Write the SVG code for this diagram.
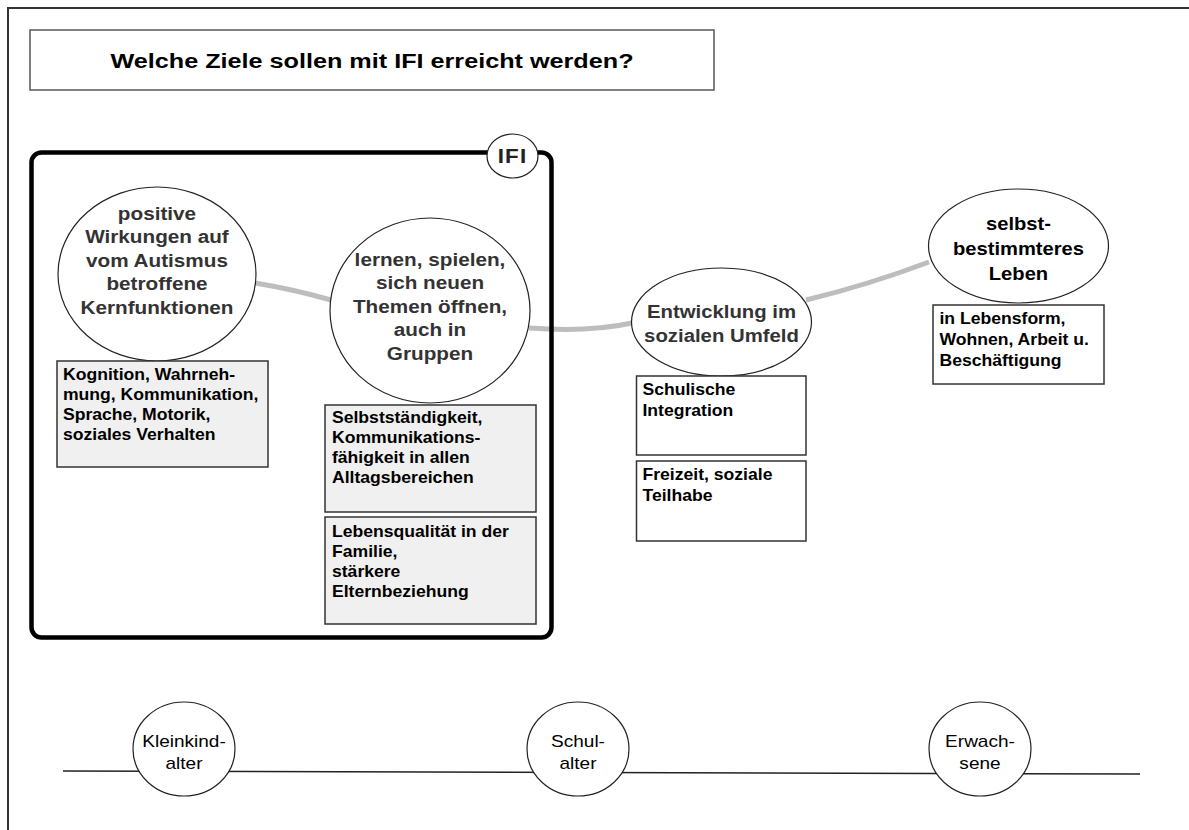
<svg xmlns="http://www.w3.org/2000/svg" width="1189" height="830" viewBox="0 0 1189 830">
<style>
.t{font-family:"Liberation Sans",Arial,sans-serif}
.b{font-weight:bold}
.node{fill:#fff;stroke:#222;stroke-width:1.2}
.ct{font-family:"Liberation Sans",Arial,sans-serif;font-weight:bold;font-size:18.5px;fill:#333;text-anchor:middle}
.bx{fill:#f0f0f0;stroke:#333;stroke-width:1.5}
.wb{fill:#fff;stroke:#333;stroke-width:1.5}
.bt{font-family:"Liberation Sans",Arial,sans-serif;font-weight:bold;font-size:16px;fill:#000}
.conn{fill:none;stroke:#bdbdbd;stroke-width:5}
.tl{font-family:"Liberation Sans",Arial,sans-serif;font-size:17px;fill:#000;text-anchor:middle}
</style>
<rect width="1189" height="830" fill="#fff"/>
<path d="M8,830 V8 H1189" fill="none" stroke="#333" stroke-width="2"/>

<g id="title">
<rect x="30" y="30" width="684" height="60" fill="#fff" stroke="#555" stroke-width="1.5"/>
<text class="t b" x="372" y="68" font-size="21" text-anchor="middle" transform="matrix(1.2 0 0 1 -74.4 0)">Welche Ziele sollen mit IFI erreicht werden?</text>
</g>

<g id="connectors">
<path class="conn" d="M255,283 Q292,289 331,300"/>
<path class="conn" d="M529,328 C570,331 605,329 632,323"/>
<path class="conn" d="M806,300 Q868,285 929,262"/>
<path d="M63,771 L1140,774" fill="none" stroke="#222" stroke-width="1.5"/>
</g>

<g id="ifi-frame">
<rect x="31.5" y="152.5" width="520" height="485" rx="10" fill="none" stroke="#000" stroke-width="4.5"/>
<ellipse cx="512.5" cy="156" rx="25.5" ry="22" fill="#fff" stroke="#222" stroke-width="1.2"/>
<text class="t b" x="512.5" y="163" font-size="20" fill="#222" text-anchor="middle" letter-spacing="1" transform="matrix(1.12 0 0 1 -61.5 0)">IFI</text>
</g>

<g id="node-kernfunktionen">
<ellipse class="node" cx="157" cy="274" rx="99" ry="87"/>
<text class="ct" transform="matrix(1.12 0 0 1 -18.84 0)"><tspan x="157" y="220">positive</tspan><tspan x="157" y="243.5">Wirkungen auf</tspan><tspan x="157" y="267">vom Autismus</tspan><tspan x="157" y="290.5">betroffene</tspan><tspan x="157" y="314">Kernfunktionen</tspan></text>
</g>

<g id="box-kognition">
<rect class="bx" x="57" y="361" width="211" height="106"/>
<text class="bt" transform="matrix(1.1 0 0 1 -6.3 0)"><tspan x="63" y="380">Kognition, Wahrneh-</tspan><tspan x="63" y="400">mung, Kommunikation,</tspan><tspan x="63" y="420">Sprache, Motorik,</tspan><tspan x="63" y="440">soziales Verhalten</tspan></text>
</g>

<g id="node-lernen">
<ellipse class="node" cx="430" cy="310.5" rx="100" ry="92.5"/>
<text class="ct" transform="matrix(1.12 0 0 1 -51.6 0)"><tspan x="430" y="266">lernen, spielen,</tspan><tspan x="430" y="289.5">sich neuen</tspan><tspan x="430" y="313">Themen öffnen,</tspan><tspan x="430" y="336.5">auch in</tspan><tspan x="430" y="360">Gruppen</tspan></text>
</g>

<g id="box-selbststaendigkeit">
<rect class="bx" x="325" y="405" width="211" height="107"/>
<text class="bt" transform="matrix(1.1 0 0 1 -33.2 0)"><tspan x="332" y="423">Selbstständigkeit,</tspan><tspan x="332" y="443">Kommunikations-</tspan><tspan x="332" y="463">fähigkeit in allen</tspan><tspan x="332" y="483">Alltagsbereichen</tspan></text>
</g>

<g id="box-lebensqualitaet">
<rect class="bx" x="325" y="517" width="211" height="107"/>
<text class="bt" transform="matrix(1.1 0 0 1 -33.2 0)"><tspan x="332" y="537">Lebensqualität in der</tspan><tspan x="332" y="557">Familie,</tspan><tspan x="332" y="577">stärkere</tspan><tspan x="332" y="597">Elternbeziehung</tspan></text>
</g>

<g id="node-umfeld">
<ellipse class="node" cx="721.5" cy="322" rx="90" ry="54"/>
<text class="ct" transform="matrix(1.1 0 0 1 -72.15 0)"><tspan x="721.5" y="318">Entwicklung im</tspan><tspan x="721.5" y="342">sozialen Umfeld</tspan></text>
</g>

<g id="box-schulische">
<rect class="wb" x="636.5" y="376" width="169.5" height="79"/>
<text class="bt" transform="matrix(1.1 0 0 1 -64.25 0)"><tspan x="642.5" y="395">Schulische</tspan><tspan x="642.5" y="416">Integration</tspan></text>
</g>

<g id="box-freizeit">
<rect class="wb" x="636.5" y="461" width="169.5" height="80"/>
<text class="bt" transform="matrix(1.1 0 0 1 -64.25 0)"><tspan x="642.5" y="480">Freizeit, soziale</tspan><tspan x="642.5" y="501">Teilhabe</tspan></text>
</g>

<g id="node-leben">
<ellipse class="node" cx="1018.5" cy="246" rx="90" ry="57"/>
<text class="ct" style="fill:#000;font-size:18px" transform="matrix(1.12 0 0 1 -122.22 0)"><tspan x="1018.5" y="230">selbst-</tspan><tspan x="1018.5" y="255">bestimmteres</tspan><tspan x="1018.5" y="280">Leben</tspan></text>
</g>

<g id="box-lebensform">
<rect class="wb" x="933" y="305" width="171" height="79"/>
<text class="bt" transform="matrix(1.1 0 0 1 -93.95 0)"><tspan x="939.5" y="324">in Lebensform,</tspan><tspan x="939.5" y="345">Wohnen, Arbeit u.</tspan><tspan x="939.5" y="366">Beschäftigung</tspan></text>
</g>

<g id="stage-kleinkind">
<ellipse class="node" cx="184" cy="749" rx="51" ry="47"/>
<text class="tl" transform="matrix(1.12 0 0 1 -22.08 0)"><tspan x="184" y="747">Kleinkind-</tspan><tspan x="184" y="769">alter</tspan></text>
</g>
<g id="stage-schul">
<ellipse class="node" cx="578" cy="749" rx="51" ry="47"/>
<text class="tl" transform="matrix(1.12 0 0 1 -69.36 0)"><tspan x="578" y="747">Schul-</tspan><tspan x="578" y="769">alter</tspan></text>
</g>
<g id="stage-erwachsene">
<ellipse class="node" cx="980" cy="749" rx="51" ry="47"/>
<text class="tl" transform="matrix(1.12 0 0 1 -117.6 0)"><tspan x="980" y="747">Erwach-</tspan><tspan x="980" y="769">sene</tspan></text>
</g>
</svg>
